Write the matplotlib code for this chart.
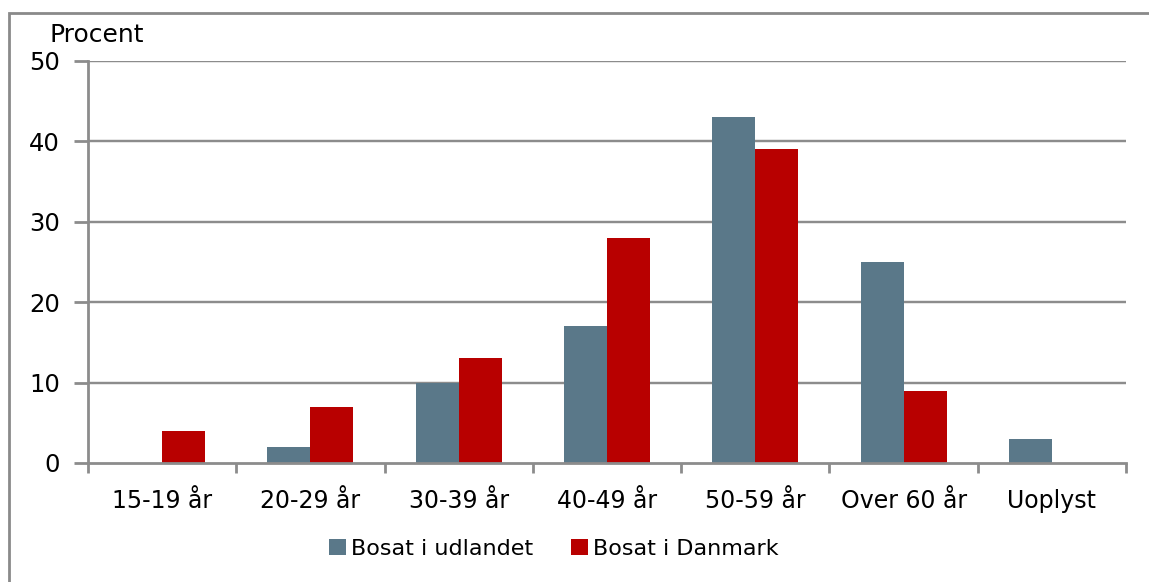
import matplotlib
matplotlib.use("Agg")
import matplotlib.pyplot as plt
import numpy as np
from matplotlib.patches import Rectangle

categories = ["15-19 år", "20-29 år", "30-39 år", "40-49 år", "50-59 år", "Over 60 år", "Uoplyst"]
udlandet = [0, 2, 10, 17, 43, 25, 3]
danmark = [4, 7, 13, 28, 39, 9, 0]
series_names = ["Bosat i udlandet", "Bosat i Danmark"]
yticks = [0, 10, 20, 30, 40, 50]

c_blue = "#5a7889"
c_red = "#b80000"
grid_c = "#8c8c8c"

plt.rcParams['font.family'] = ['DejaVu Sans']
W, H = 1149, 582
fig = plt.figure(figsize=(W/100, H/100), dpi=100)
fig.patches.append(Rectangle((9/W, -0.1), 1.2, (H-13)/H + 0.1, transform=fig.transFigure,
                             fill=False, edgecolor="#8a8a8a", linewidth=2))

ax = fig.add_axes([88/W, (H-463)/H, (1126-88)/W, (463-61)/H])
x = np.arange(len(categories))
bw = 0.29
ax.bar(x - bw/2, udlandet, bw, color=c_blue, label=series_names[0], zorder=3)
ax.bar(x + bw/2, danmark, bw, color=c_red, label=series_names[1], zorder=3)

ax.set_xlim(-0.5, len(categories) - 0.5)
ax.set_ylim(0, 50)
ax.set_yticks(yticks)
ax.set_yticklabels([str(v) for v in yticks], fontsize=17.5)
ax.set_xticks(x)
ax.set_xticklabels(categories, fontsize=17)
ax.set_xticks(np.arange(len(categories) + 1) - 0.5, minor=True)
ax.tick_params(axis='x', which='major', length=0, pad=19)
ax.tick_params(axis='x', which='minor', length=7, width=2, color=grid_c, direction='out')
ax.tick_params(axis='y', length=10, width=2, color=grid_c, direction='out', pad=10)

for v in yticks[1:]:
    ax.axhline(v, color=grid_c, linewidth=1.75, zorder=1)
for s in ["top", "right"]:
    ax.spines[s].set_visible(False)
for s in ["left", "bottom"]:
    ax.spines[s].set_color(grid_c)
    ax.spines[s].set_linewidth(2)
ax.spines["bottom"].set_zorder(4)

fig.text(50/W, 1 - 35/H, "Procent", fontsize=18, va="center", ha="left")

leg = fig.legend(loc="center", bbox_to_anchor=(554/W, 1 - 549/H), ncol=2, frameon=False,
                 fontsize=16, handlelength=0.75, handleheight=0.75, handletextpad=0.25,
                 columnspacing=1.7)

fig.savefig("out.png", dpi=100)
